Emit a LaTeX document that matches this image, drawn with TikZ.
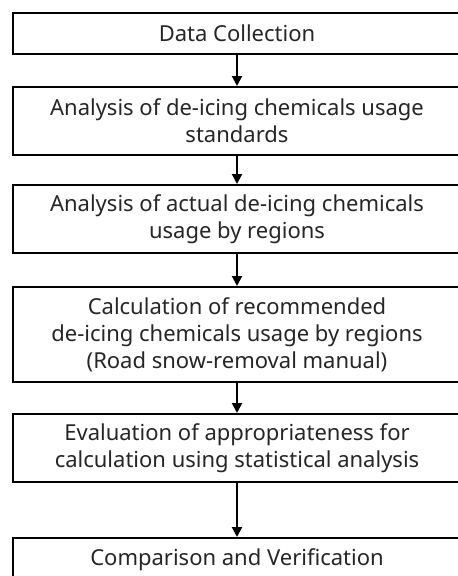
\documentclass[tikz,border=0pt]{standalone}
\usepackage{fontspec}
\setmainfont{Noto Sans}
\usetikzlibrary{arrows.meta}
\begin{document}
\begin{tikzpicture}[x=1pt,y=-1pt,
  stepbox/.style={draw=black, line width=2pt, minimum width=448pt, align=center,
    inner sep=0pt, font=\fontsize{22}{27}\selectfont, text=black!85},
  flow/.style={-{Triangle[width=10pt,length=10pt]}, line width=2pt}]
\useasboundingbox (0,0) rectangle (458,576);
\fill[white] (0,0) rectangle (458,576);
\node[stepbox, minimum height=41pt] (b1) at (237,33.5) {Data Collection};
\node[stepbox, minimum height=68pt] (b2) at (237,121) {Analysis of de-icing chemicals usage\\standards};
\node[stepbox, minimum height=68pt] (b3) at (237,219) {Analysis of actual de-icing chemicals\\usage by regions};
\node[stepbox, minimum height=95pt] (b4) at (237,334.5) {Calculation of recommended\\de-icing chemicals usage by regions\\(Road snow-removal manual)};
\node[stepbox, minimum height=68pt] (b5) at (237,448) {Evaluation of appropriateness for\\calculation using statistical analysis};
\node[stepbox, minimum height=44pt] (b6) at (237,560) {Comparison and Verification};
\draw[flow] (b1) -- (b2);
\draw[flow] (b2) -- (b3);
\draw[flow] (b3) -- (b4);
\draw[flow] (b4) -- (b5);
\draw[flow] (b5) -- (b6);
\end{tikzpicture}
\end{document}
